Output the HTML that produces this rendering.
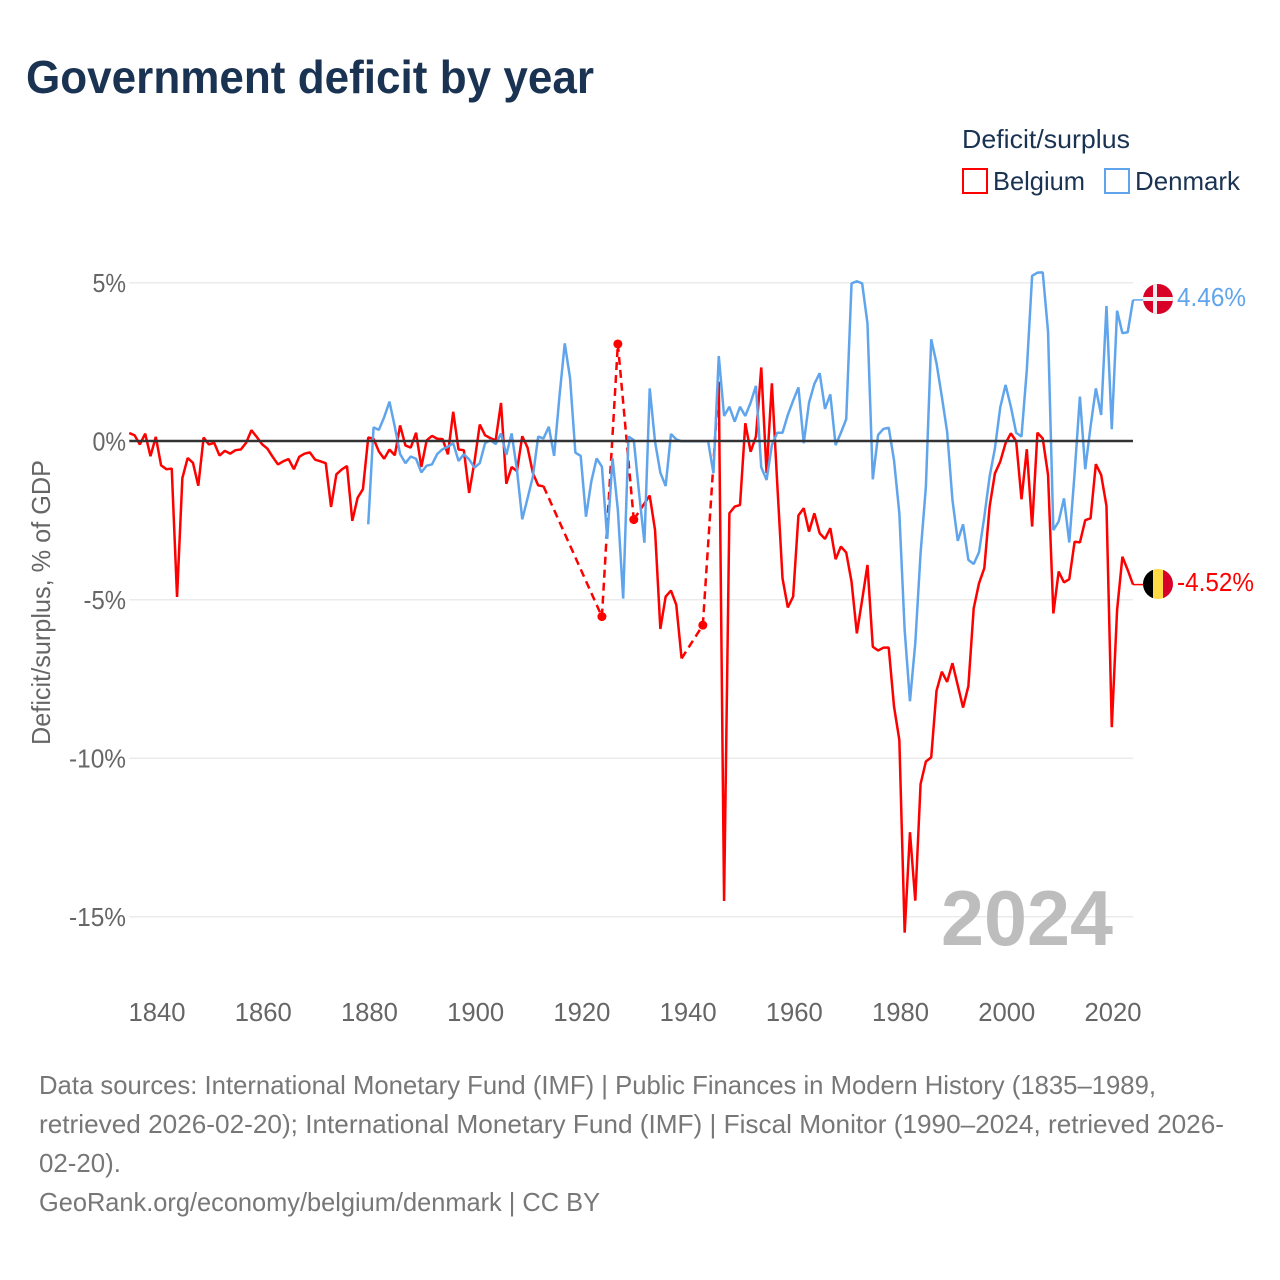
<!DOCTYPE html>
<html lang="en">
<head>
<meta charset="utf-8">
<title>Government deficit by year</title>
<style>
html,body{margin:0;padding:0;background:#fff;width:1280px;height:1280px;overflow:hidden}
svg{display:block;font-family:"Liberation Sans",sans-serif}
</style>
</head>
<body>
<svg id="chart" width="1280" height="1280" viewBox="0 0 1280 1280" xmlns="http://www.w3.org/2000/svg">
  <text x="26" y="93" font-size="46" font-weight="700" fill="#1a3352" textLength="568" lengthAdjust="spacingAndGlyphs">Government deficit by year</text>

  <g>
    <text x="962" y="148" font-size="26" fill="#1a3352" textLength="168" lengthAdjust="spacingAndGlyphs">Deficit/surplus</text>
    <g>
      <rect x="963" y="169" width="24" height="24" fill="#fff" stroke="#ff0000" stroke-width="2"/>
      <text x="993" y="190" font-size="26" fill="#1a3352" textLength="92" lengthAdjust="spacingAndGlyphs">Belgium</text>
    </g>
    <g>
      <rect x="1105" y="169" width="24" height="24" fill="#fff" stroke="#60a5ec" stroke-width="2"/>
      <text x="1135" y="190" font-size="26" fill="#1a3352" textLength="105" lengthAdjust="spacingAndGlyphs">Denmark</text>
    </g>
  </g>

  <g id="grid"></g>
  <g id="yticks"></g>
  <g id="xticks"></g>
  <text transform="translate(50,602.5) rotate(-90)" text-anchor="middle" font-size="26" fill="#666" textLength="285" lengthAdjust="spacingAndGlyphs">Deficit/surplus, % of GDP</text>

  <text x="941" y="945" font-size="78" font-weight="700" fill="#bdbdbd" textLength="172" lengthAdjust="spacingAndGlyphs">2024</text>

  <g id="series"></g>
  <g id="zero"></g>

  <defs>
    <clipPath id="clip-dk"><circle cx="1158" cy="299" r="15"/></clipPath>
    <clipPath id="clip-be"><circle cx="1158" cy="584" r="15"/></clipPath>
  </defs>
  <g id="flag-dk" clip-path="url(#clip-dk)">
    <rect x="1143" y="284" width="30" height="30" fill="#d80027"/>
    <rect x="1153" y="284" width="4" height="30" fill="#eeeeee"/>
    <rect x="1143" y="297" width="30" height="4" fill="#eeeeee"/>
  </g>
  <g id="flag-be" clip-path="url(#clip-be)">
    <rect x="1143" y="569" width="10" height="30" fill="#000000"/>
    <rect x="1153" y="569" width="10" height="30" fill="#ffda44"/>
    <rect x="1163" y="569" width="10" height="30" fill="#d80027"/>
  </g>
  <text x="1177" y="306" font-size="26" fill="#60a5ec" textLength="69" lengthAdjust="spacingAndGlyphs">4.46%</text>
  <text x="1177" y="591" font-size="26" fill="#ff0000" textLength="77" lengthAdjust="spacingAndGlyphs">-4.52%</text>

  <g font-size="26" fill="#777">
    <text x="39" y="1094" textLength="1117" lengthAdjust="spacingAndGlyphs">Data sources: International Monetary Fund (IMF) | Public Finances in Modern History (1835–1989,</text>
    <text x="39" y="1133" textLength="1185" lengthAdjust="spacingAndGlyphs">retrieved 2026-02-20); International Monetary Fund (IMF) | Fiscal Monitor (1990–2024, retrieved 2026-</text>
    <text x="39" y="1172" textLength="82" lengthAdjust="spacingAndGlyphs">02-20).</text>
    <text x="39" y="1211" textLength="561" lengthAdjust="spacingAndGlyphs">GeoRank.org/economy/belgium/denmark | CC BY</text>
  </g>
</svg>
<script>
const years = [1835,1836,1837,1838,1839,
1840,1841,1842,1843,1844,1845,1846,1847,1848,1849,
1850,1851,1852,1853,1854,1855,1856,1857,1858,1859,
1860,1861,1862,1863,1864,1865,1866,1867,1868,1869,
1870,1871,1872,1873,1874,1875,1876,1877,1878,1879,
1880,1881,1882,1883,1884,1885,1886,1887,1888,1889,
1890,1891,1892,1893,1894,1895,1896,1897,1898,1899,
1900,1901,1902,1903,1904,1905,1906,1907,1908,1909,
1910,1911,1912,1913,1914,1915,1916,1917,1918,1919,
1920,1921,1922,1923,1924,1925,1926,1927,1928,1929,
1930,1931,1932,1933,1934,1935,1936,1937,1938,1939,
1940,1941,1942,1943,1944,1945,1946,1947,1948,1949,
1950,1951,1952,1953,1954,1955,1956,1957,1958,1959,
1960,1961,1962,1963,1964,1965,1966,1967,1968,1969,
1970,1971,1972,1973,1974,1975,1976,1977,1978,1979,
1980,1981,1982,1983,1984,1985,1986,1987,1988,1989,
1990,1991,1992,1993,1994,1995,1996,1997,1998,1999,
2000,2001,2002,2003,2004,2005,2006,2007,2008,2009,
2010,2011,2012,2013,2014,2015,2016,2017,2018,2019,
2020,2021,2022,2023,2024];

const belgiumValues = [0.26,0.19,-0.1,0.24,-0.47,
0.14,-0.76,-0.88,-0.86,-4.91,-1.16,-0.53,-0.68,-1.4,0.12,
-0.1,-0.05,-0.45,-0.3,-0.39,-0.28,-0.26,-0.05,0.35,0.14,
-0.09,-0.23,-0.49,-0.73,-0.63,-0.56,-0.88,-0.49,-0.39,-0.35,
-0.58,-0.63,-0.69,-2.07,-1.04,-0.89,-0.78,-2.51,-1.78,-1.51,
0.12,0.08,-0.32,-0.55,-0.26,-0.44,0.5,-0.13,-0.2,0.27,
-0.81,0.03,0.17,0.08,0.07,-0.41,0.93,-0.26,-0.28,-1.63,
-0.65,0.53,0.19,0.1,0.03,1.21,-1.34,-0.81,-0.94,0.16,
-0.2,-1.0,-1.39,-1.42,null,null,null,null,null,null,
null,null,null,null,-5.53,null,null,3.07,null,null,
-2.47,null,-1.96,-1.71,-2.8,-5.92,-4.9,-4.71,-5.16,-6.85,
null,null,null,-5.8,null,null,1.88,-14.5,-2.27,-2.06,
-2.01,0.57,-0.33,0.15,2.33,-1.0,1.83,-1.3,-4.32,-5.24,
-4.9,-2.34,-2.11,-2.85,-2.27,-2.9,-3.08,-2.74,-3.72,-3.32,
-3.51,-4.43,-6.06,-5.0,-3.9,-6.48,-6.6,-6.51,-6.51,-8.37,
-9.42,-15.5,-12.33,-14.49,-10.81,-10.1,-9.97,-7.87,-7.27,-7.59,
-7.0,-7.7,-8.4,-7.72,-5.27,-4.48,-4.0,-2.06,-1.01,-0.64,
-0.06,0.25,0.0,-1.83,-0.25,-2.69,0.27,0.09,-1.06,-5.43,
-4.11,-4.45,-4.35,-3.17,-3.19,-2.49,-2.43,-0.72,-1.06,-2.04,
-9.02,-5.32,-3.64,-4.06,-4.52];

const denmarkValues = [null,null,null,null,null,
null,null,null,null,null,null,null,null,null,null,
null,null,null,null,null,null,null,null,null,null,
null,null,null,null,null,null,null,null,null,null,
null,null,null,null,null,null,null,null,null,null,
-2.62,0.44,0.36,0.76,1.25,0.46,-0.4,-0.69,-0.48,-0.55,
-0.98,-0.77,-0.73,-0.4,-0.25,-0.17,-0.06,-0.62,-0.41,-0.57,
-0.83,-0.69,-0.06,0.04,-0.09,0.25,-0.43,0.25,-0.9,-2.46,
-1.8,-1.11,0.15,0.09,0.46,-0.46,1.41,3.09,1.99,-0.36,
-0.46,-2.38,-1.27,-0.54,-0.8,-3.08,-0.54,-2.17,-4.96,0.15,
0.04,-1.64,-3.2,1.67,-0.01,-0.99,-1.41,0.23,0.06,0.0,
0.0,0.0,0.0,0.0,0.0,-1.01,2.69,0.8,1.09,0.62,
1.09,0.8,1.22,1.75,-0.82,-1.22,-0.12,0.27,0.27,0.83,
1.28,1.7,-0.06,1.22,1.81,2.15,1.02,1.48,-0.12,0.27,
0.7,4.98,5.05,4.98,3.72,-1.2,0.2,0.39,0.43,-0.6,
-2.27,-5.95,-8.2,-6.37,-3.53,-1.43,3.22,2.46,1.41,0.3,
-1.85,-3.14,-2.62,-3.74,-3.87,-3.5,-2.38,-1.11,-0.22,1.07,
1.78,1.09,0.27,0.15,2.25,5.22,5.32,5.33,3.46,-2.8,
-2.53,-1.8,-3.19,-1.01,1.41,-0.88,0.46,1.67,0.83,4.27,
0.38,4.12,3.41,3.44,4.46];

const xTickYears = [1840,1860,1880,1900,1920,1940,1960,1980,2000,2020];
const yTickValues = [5,0,-5,-10,-15];
const yTickLabels = ['5%','0%','-5%','-10%','-15%'];

const NS = 'http://www.w3.org/2000/svg';
const plotLeft = 129.3, plotRight = 1133, tailEnd = 1143;
function xScale(year){ return 155.8 + (year - 1840) * 5.311; }
function yScale(value){ return 441.3 - value * 31.7; }
function tickLabelWidth(label){
  const digits = label.replace(/[^0-9]/g, '').length;
  return 19 + digits * 14.5 + (label.charAt(0) === '-' ? 9 : 0);
}
function make(tag, attrs, parent, text){
  const el = document.createElementNS(NS, tag);
  for (const k in attrs) el.setAttribute(k, attrs[k]);
  if (text !== undefined) el.textContent = text;
  parent.appendChild(el);
  return el;
}
const gridG = document.getElementById('grid');
const yTicksG = document.getElementById('yticks');
const xTicksG = document.getElementById('xticks');
const seriesG = document.getElementById('series');
const zeroG = document.getElementById('zero');

yTickValues.forEach(function(v, i){
  const y = yScale(v);
  const line = make('line', {x1: plotLeft, x2: plotRight, y1: y, y2: y, stroke: '#ebebeb', 'stroke-width': 1.5}, gridG);
  
  
  const t = make('text', {x: 126, y: y + 9, 'text-anchor': 'end', 'font-size': 26, fill: '#666', 'lengthAdjust': 'spacingAndGlyphs'}, yTicksG, yTickLabels[i]);
  
  
  t.setAttribute('textLength', tickLabelWidth(yTickLabels[i]).toFixed(1));
});
xTickYears.forEach(function(yr){
  const t = make('text', {x: xScale(yr) + 1.2, y: 1021, 'text-anchor': 'middle', 'font-size': 26, fill: '#666', 'lengthAdjust': 'spacingAndGlyphs'}, xTicksG, String(yr));
  
  
  t.setAttribute('textLength', '57');
});

function drawSeries(values, color, key){
  let solid = '', dashed = '', prev = -1;
  const isolated = [];
  values.forEach(function(v, i){
    if (v === null) return;
    const x = xScale(years[i]).toFixed(2), y = yScale(v).toFixed(2);
    const hasPrev = i > 0 && values[i-1] !== null;
    const hasNext = i < values.length-1 && values[i+1] !== null;
    if (hasPrev) solid += 'L' + x + ' ' + y; else solid += 'M' + x + ' ' + y;
    if (prev >= 0 && !hasPrev) {
      dashed += 'M' + xScale(years[prev]).toFixed(2) + ' ' + yScale(values[prev]).toFixed(2) + 'L' + x + ' ' + y;
    }
    if (!hasPrev && !hasNext) isolated.push(i);
    prev = i;
  });
  const g = make('g', {}, seriesG);
  
  
  if (dashed) {
    const d = make('path', {d: dashed, fill: 'none', stroke: color, 'stroke-width': 2.5, 'stroke-dasharray': '8 5'}, g);
    
    
  }
  const p = make('path', {d: solid, fill: 'none', stroke: color, 'stroke-width': 2.5, 'stroke-linejoin': 'bevel'}, g);
  
  
  isolated.forEach(function(i){
    const c = make('circle', {cx: xScale(years[i]), cy: yScale(values[i]), r: 4.5, fill: color}, g);
    
    
  });
  const lastY = yScale(values[values.length-1]);
  const tail = make('line', {x1: xScale(years[years.length-1]), x2: tailEnd, y1: lastY, y2: lastY, stroke: color, 'stroke-width': 1.5}, g);
  
  
}
drawSeries(belgiumValues, '#ff0000', 'belgium');
drawSeries(denmarkValues, '#60a5ec', 'denmark');

const zeroLine = make('line', {x1: plotLeft, x2: plotRight, y1: yScale(0) - 0.3, y2: yScale(0) - 0.3, stroke: '#333', 'stroke-width': 2.5}, zeroG);


</script>
</body>
</html>
